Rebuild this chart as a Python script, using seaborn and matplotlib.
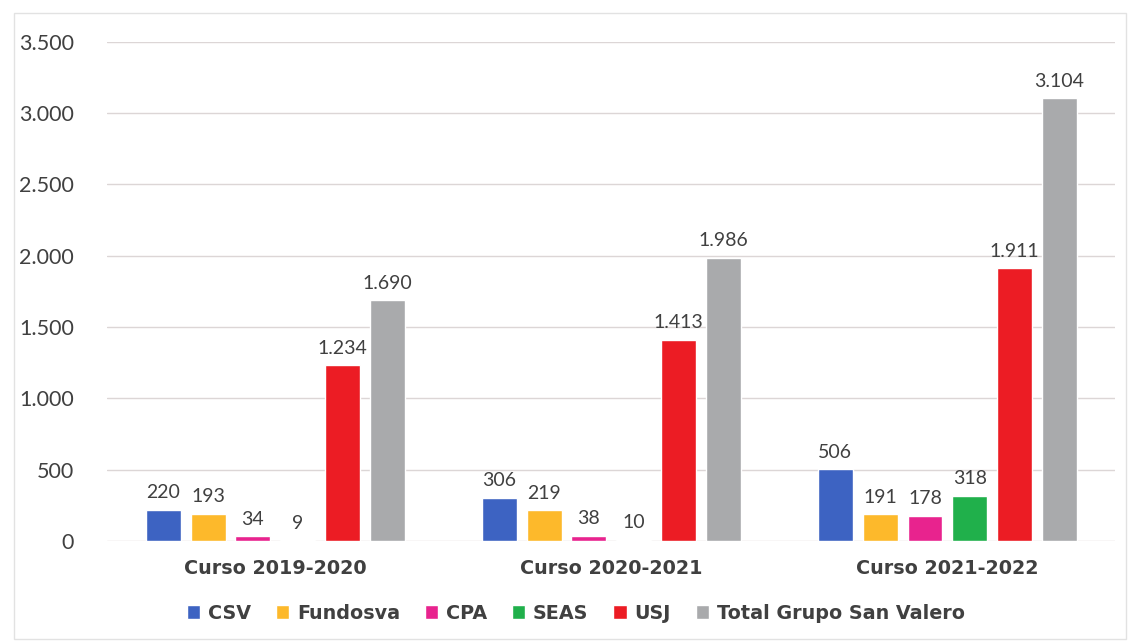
import pandas as pd
import seaborn as sns
import matplotlib.pyplot as plt
from matplotlib.patches import Rectangle

# === Data ===
cursos = ['Curso 2019-2020', 'Curso 2020-2021', 'Curso 2021-2022']
entidades = ['CSV', 'Fundosva', 'CPA', 'SEAS', 'USJ', 'Total Grupo San Valero']
csv = [220, 306, 506]
fundosva = [193, 219, 191]
cpa = [34, 38, 178]
seas = [9, 10, 318]
usj = [1234, 1413, 1911]
total = [1690, 1986, 3104]

colores = ['#3D63C2', '#FDB92B', '#E8238E', '#20B04B', '#EC1C24', '#A9AAAC']

series = [csv, fundosva, cpa, seas, usj, total]
rows = []
for ent, vals in zip(entidades, series):
    for curso, v in zip(cursos, vals):
        rows.append({'Curso': curso, 'Entidad': ent, 'Alumnos': v})
df = pd.DataFrame(rows)


def fmt_es(v):
    return f"{v:,.0f}".replace(',', '.')


sns.set_style('white')
plt.rcParams['font.family'] = ['Lato', 'DejaVu Sans']

fig = plt.figure(figsize=(11.29, 6.42), dpi=100)
ax = fig.add_axes([0.095, 0.157, 0.893, 0.778])

sns.barplot(data=df, x='Curso', y='Alumnos', hue='Entidad', hue_order=entidades,
            order=cursos, palette=colores, gap=0.22, saturation=1, ax=ax)

# value labels on bars
for cont, vals in zip(ax.containers, series):
    ax.bar_label(cont, labels=[fmt_es(v) for v in vals], padding=6,
                 fontsize=14, color='#404040')

ax.set_ylim(0, 3500)
ax.set_xlim(-0.5, 2.5)
ticks = list(range(0, 3501, 500))
ax.set_yticks(ticks)
ax.set_yticklabels([fmt_es(t) for t in ticks])
ax.tick_params(axis='y', labelsize=15.5, labelcolor='#404040', pad=24, length=0)
ax.tick_params(axis='x', labelsize=13.8, labelcolor='#404040', pad=13, length=0)
for lab in ax.get_xticklabels():
    lab.set_fontweight('bold')
    lab.set_family('DejaVu Sans')
ax.grid(axis='y', color='#DCD6D6', linewidth=1)
ax.set_axisbelow(True)
for s in ax.spines.values():
    s.set_visible(False)
ax.set_xlabel('')
ax.set_ylabel('')

# legend at the bottom
handles, labels = ax.get_legend_handles_labels()
ax.legend_.remove()
fig.legend(handles, labels, loc='center', bbox_to_anchor=(0.51, 0.045), ncol=6,
           frameon=False, handlelength=0.7, handleheight=0.7, handletextpad=0.4,
           columnspacing=1.3, prop={'family': 'DejaVu Sans', 'weight': 'bold', 'size': 13.8},
           labelcolor='#404040')

# light frame around the chart
fig.patches.append(Rectangle((0.012, 0.005), 0.985, 0.975, transform=fig.transFigure,
                             fill=False, edgecolor='#E2E2E2', linewidth=1))

fig.savefig('out.png', dpi=100)
